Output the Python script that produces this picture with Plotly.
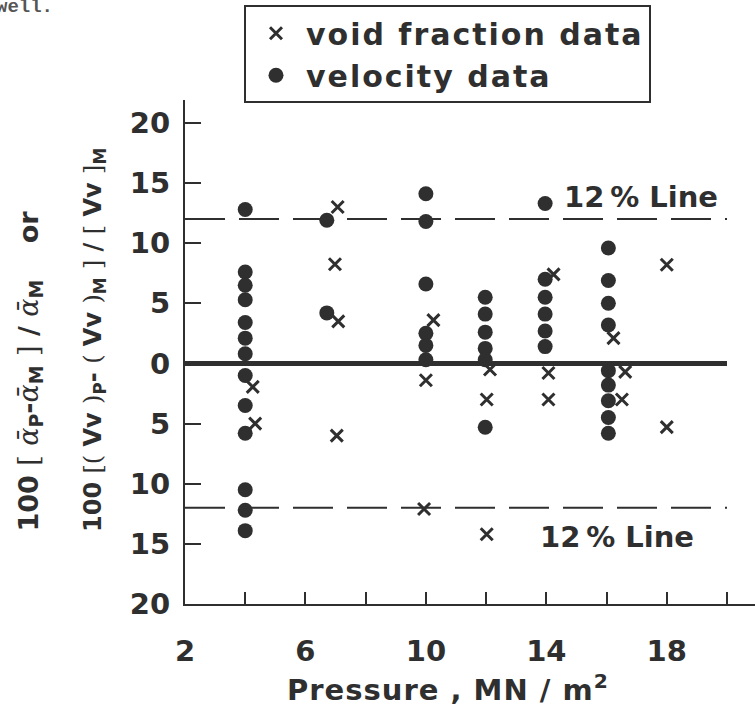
import plotly.graph_objects as go

# Percentage deviation of predicted from measured values versus system pressure
vel_p = [4.0] * 13 + [6.71] * 2 + [10.0] * 6 + [11.97] * 6 + [13.96] * 6 + [16.06] * 9
vel_dev = [12.8, 7.6, 6.5, 5.3, 3.4, 2.1, 0.8, -1.0, -3.5, -5.8, -10.5, -12.2, -13.9,
           11.9, 4.2,
           14.1, 11.8, 6.6, 2.5, 1.5, 0.3,
           5.5, 4.1, 2.6, 1.25, 0.3, -5.3,
           13.3, 7.0, 5.5, 4.1, 2.7, 1.4,
           9.6, 6.9, 5.0, 3.2, -0.6, -1.8, -3.1, -4.5, -5.8]

void_p = [4.25, 4.33, 7.07, 6.98, 7.09, 7.04, 10.25, 10.0, 9.94, 12.13, 12.02, 12.02,
          14.24, 14.07, 14.07, 16.23, 16.62, 16.51, 18.0, 18.0]
void_dev = [-1.95, -5.0, 13.0, 8.25, 3.5, -6.0, 3.6, -1.4, -12.1, -0.5, -3.0, -14.2,
            7.4, -0.8, -3.0, 2.1, -0.7, -3.0, 8.2, -5.3]

# Reference lines: zero deviation and the +/-12 % band
ref_p = [2, 20]
zero_dev = [0, 0]
band_upper = [12, 12]
band_lower = [-12, -12]

x_ticks = [2, 4, 6, 8, 10, 12, 14, 16, 18, 20]
x_labels = ["2", "", "6", "", "10", "", "14", "", "18", ""]
y_ticks = [-20, -15, -10, -5, 0, 5, 10, 15, 20]
y_labels = ["20", "15", "10", "5", "0", "5", "10", "15", "20"]

INK = "#2f2f2f"
BOLD = "DejaVu Sans"


def spaced(text, px):
    """Wrap text in a span with extra letter spacing."""
    return f'<span style="letter-spacing:{px}px">{text}</span>'


fig = go.Figure()

fig.add_trace(go.Scatter(x=ref_p, y=zero_dev, mode="lines",
                         line=dict(color=INK, width=5), showlegend=False, hoverinfo="skip"))
for band in (band_upper, band_lower):
    fig.add_trace(go.Scatter(x=ref_p, y=band, mode="lines",
                             line=dict(color=INK, width=2, dash="40px,14px"),
                             showlegend=False, hoverinfo="skip"))

fig.add_trace(go.Scatter(x=void_p, y=void_dev, mode="markers",
                         name=spaced("void fraction data", 2),
                         marker=dict(symbol="x-thin", size=12, color=INK,
                                     line=dict(color=INK, width=3))))
fig.add_trace(go.Scatter(x=vel_p, y=vel_dev, mode="markers",
                         name=spaced("velocity data", 2),
                         marker=dict(symbol="circle", size=15, color=INK)))

fig.update_layout(
    width=755, height=704,
    margin=dict(l=185, r=0, t=100, b=100),
    paper_bgcolor="white", plot_bgcolor="white",
    font=dict(family=BOLD, color=INK, weight="bold"),
    legend=dict(x=0.1035, y=1.188, xanchor="left", yanchor="top",
                bordercolor=INK, borderwidth=2, bgcolor="white",
                font=dict(family=BOLD, size=30, color=INK, weight="bold"),
                tracegroupgap=0, itemwidth=50),
)

fig.update_xaxes(range=[2, 20.93], showline=True, linecolor=INK, linewidth=2,
                 ticks="inside", ticklen=12, tickwidth=2, tickcolor=INK,
                 tickvals=x_ticks, ticktext=x_labels, showgrid=False, zeroline=False,
                 tickfont=dict(family=BOLD, size=29, color=INK, weight="bold"),
                 ticklabelstandoff=20)
fig.update_yaxes(range=[-20, 21.9], showline=True, linecolor=INK, linewidth=2,
                 ticks="inside", ticklen=16, tickwidth=2, tickcolor=INK,
                 tickvals=y_ticks, ticktext=y_labels, showgrid=False, zeroline=False,
                 tickfont=dict(family=BOLD, size=29, color=INK, weight="bold"),
                 ticklabelstandoff=7)

# Band labels
band_label = "12\u2009% Line"
fig.add_annotation(x=17.15, y=13.8, text=band_label, showarrow=False,
                   font=dict(family=BOLD, size=29, color=INK, weight="bold"))
fig.add_annotation(x=16.35, y=-14.4, text=band_label, showarrow=False,
                   font=dict(family=BOLD, size=29, color=INK, weight="bold"))

# Axis titles
fig.add_annotation(xref="paper", yref="paper", x=0.461, y=-0.166,
                   text=spaced("Pressure , MN / m", 1) + "<sup>2</sup>", showarrow=False,
                   xanchor="center", yanchor="middle",
                   font=dict(family=BOLD, size=29, color=INK, weight="bold"))

thin = '<span style="font-family:DejaVu Serif;font-weight:normal">{}</span>'
alpha = '<span style="font-family:DejaVu Serif;font-weight:normal;font-style:italic">\u1fb1</span>'
gap = "\u2003 "
line1 = ("100 " + thin.format("[") + " " + alpha + "<sub>P</sub>-" + alpha + "<sub>M</sub> "
         + thin.format("]") + " / " + alpha + "<sub>M</sub>" + gap + "or")
line2 = ("100 " + thin.format("[(") + " Vv " + thin.format(")") + "<sub>P</sub>- "
         + thin.format("(") + " Vv " + thin.format(")") + "<sub>M</sub> " + thin.format("]")
         + " / " + thin.format("[") + " Vv " + thin.format("]") + "<sub>M</sub>")
fig.add_annotation(xref="paper", yref="paper", x=(30 - 185) / 570, y=(604 - 534) / 504,
                   text=line1, textangle=-90, showarrow=False,
                   xanchor="center", yanchor="bottom",
                   font=dict(family=BOLD, size=27, color=INK, weight="bold"))
fig.add_annotation(xref="paper", yref="paper", x=(94 - 185) / 570, y=(604 - 534) / 504,
                   text=line2, textangle=-90, showarrow=False,
                   xanchor="center", yanchor="bottom",
                   font=dict(family=BOLD, size=24, color=INK, weight="bold"))

# Trailing word of the preceding paragraph on the page
fig.add_annotation(xref="paper", yref="paper", x=(-6 - 185) / 570, y=1 + (100 - 7) / 504,
                   text="well.", showarrow=False, xanchor="left", yanchor="middle",
                   font=dict(family="Liberation Mono", size=19, color="#555555"))

fig.write_html("out.html")
